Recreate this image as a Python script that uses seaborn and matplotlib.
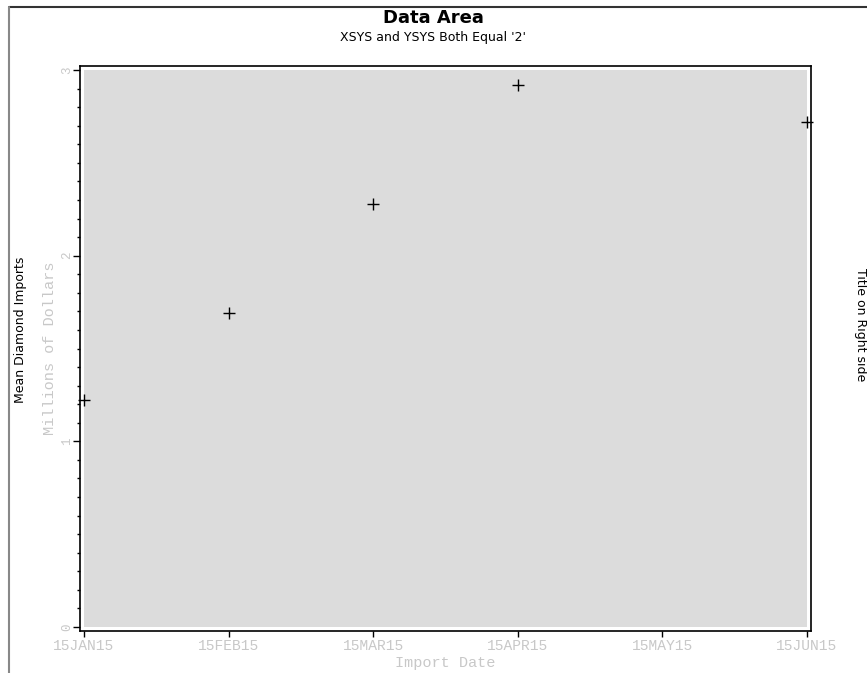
import matplotlib
matplotlib.use("Agg")
import matplotlib.pyplot as plt
import seaborn as sns
import pandas as pd
from matplotlib.lines import Line2D
from matplotlib.ticker import MultipleLocator

# データ
date_labels = ["15JAN15", "15FEB15", "15MAR15", "15APR15", "15MAY15", "15JUN15"]
point_month = [0, 1, 2, 3, 5]
point_value = [1.22, 1.69, 2.28, 2.92, 2.72]

df = pd.DataFrame({"month": point_month, "imports": point_value})

sns.set_style("white")
plt.rcParams['font.family'] = ['DejaVu Sans']
plt.rcParams['text.color'] = 'black'

W, H = 867, 673
fig = plt.figure(figsize=(W / 100, H / 100), dpi=100)

# 灰色のデータ領域
x0, x1, y0, y1 = 84, 807, 70, 627
ax = fig.add_axes([x0 / W, 1 - y1 / H, (x1 - x0) / W, (y1 - y0) / H])
ax.set_facecolor("#dcdcdc")

sns.scatterplot(data=df, x="month", y="imports", marker="+", s=70,
                color="black", linewidth=1.0, ax=ax, clip_on=False)

ax.set_xlim(0, 5)
ax.set_ylim(0, 3)

# 外枠（データ領域から4pxずらす）
pad = 4 * 72 / 100
for side in ["left", "right", "top", "bottom"]:
    ax.spines[side].set_visible(True)
    ax.spines[side].set_color("black")
    ax.spines[side].set_linewidth(1.2)
    ax.spines[side].set_position(("outward", pad))
dx = 4 / (x1 - x0) * 5
dy = 4 / (y1 - y0) * 3
ax.spines["left"].set_bounds(-dy, 3 + dy)
ax.spines["right"].set_bounds(-dy, 3 + dy)
ax.spines["top"].set_bounds(-dx, 5 + dx)
ax.spines["bottom"].set_bounds(-dx, 5 + dx)

light = "#c8c8c8"
mono = ['Liberation Mono']
ax.set_xticks(range(len(date_labels)))
ax.set_xticklabels(date_labels, fontsize=10.5, color=light, family=mono)
ax.set_yticks([0, 1, 2, 3])
ax.set_yticklabels(["0", "1", "2", "3"], fontsize=9, color=light,
                   rotation=90, va="center", family=mono)
ax.yaxis.set_minor_locator(MultipleLocator(0.1))
ax.tick_params(axis="x", which="major", bottom=True, length=4, width=1,
               color="black", pad=2)
ax.tick_params(axis="y", which="major", left=True, length=5, width=1,
               color="black", pad=0)
ax.tick_params(axis="y", which="minor", left=True, length=2.5, width=1,
               color="black")

ax.set_xlabel("Import Date", fontsize=11, color=light, labelpad=2,
              family=mono)
ax.set_ylabel("Millions of Dollars", fontsize=11, color=light, labelpad=3,
              family=mono)

# タイトル類
fig.text(0.5, 1 - 18 / H, "Data Area", ha="center", va="center",
         fontsize=13, fontweight="bold")
fig.text(0.5, 1 - 38 / H, "XSYS and YSYS Both Equal '2'", ha="center",
         va="center", fontsize=9)
fig.text(21 / W, 1 - 330 / H, "Mean Diamond Imports", ha="center",
         va="center", rotation=90, fontsize=9)
fig.text(860 / W, 1 - 325 / H, "Title on Right side", ha="center",
         va="center", rotation=-90, fontsize=9)

# 図全体の枠線
fig.add_artist(Line2D([9 / W, 1], [1 - 7 / H, 1 - 7 / H],
                      transform=fig.transFigure, color="#333333", lw=1.5))
fig.add_artist(Line2D([9 / W, 9 / W], [1 - 7 / H, 0],
                      transform=fig.transFigure, color="#888888", lw=1.5))

fig.savefig("out.png", dpi=100)
